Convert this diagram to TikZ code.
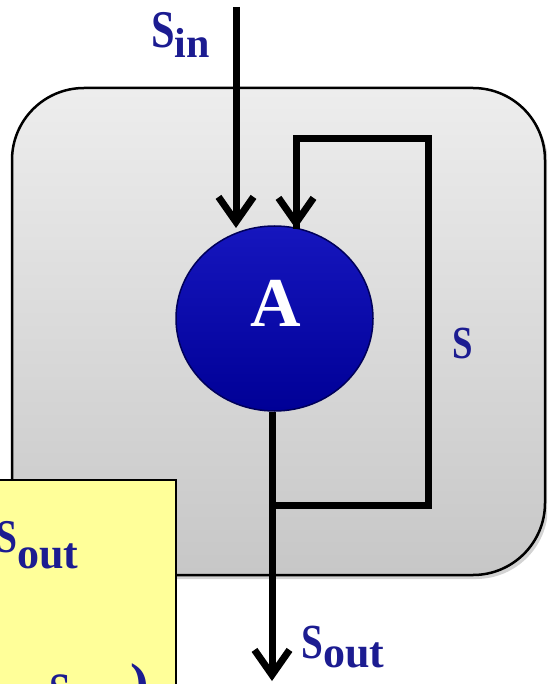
\documentclass[tikz,border=0pt]{standalone}
\usepackage{fontspec}
\setmainfont{Liberation Serif}
\usetikzlibrary{arrows.meta,shapes.geometric,shadows}
\definecolor{ink}{RGB}{28,28,145}
\definecolor{note}{RGB}{255,255,153}
\definecolor{coreTop}{RGB}{22,22,190}
\definecolor{coreBot}{RGB}{0,0,150}
% #1 letter size, #2 subscript size, #3 subscript drop, #4 subscript
\newcommand{\bigS}[1]{\scalebox{0.8}[1]{\fontsize{#1}{#1}\selectfont\bfseries S}}
\newcommand{\Ssub}[4]{\bigS{#1}\raisebox{-#3pt}{\fontsize{#2}{#2}\selectfont\bfseries #4}}
\tikzset{
  wire/.style={line width=7pt, line join=miter, line cap=butt},
  flow/.style={wire, -{Straight Barb[length=25pt,width=35pt]}},
  lbl/.style={text=ink, inner sep=0pt, anchor=base west},
}
\begin{document}
\begin{tikzpicture}[x=1pt,y=-1pt]
  \useasboundingbox (0,0) rectangle (547,684);
  \clip (0,0) rectangle (547,684);

  % enclosing system box
  \path[draw=black, line width=2.5pt, rounded corners=72pt,
        top color=black!7, bottom color=black!22,
        drop shadow={shadow xshift=3pt, shadow yshift=-4pt, opacity=0.35}]
    (12,88) rectangle (545,575);

  % process node
  \node[ellipse, minimum width=197pt, minimum height=185pt, inner sep=0pt,
        draw=coreBot!60!black, line width=1.5pt, top color=coreTop, bottom color=coreBot]
    (core) at (274.5,318.5) {};
  \node[text=white, inner sep=0pt, font=\fontsize{70}{70}\selectfont\bfseries]
    (A) at (276,303) {A};

  % connector points
  \coordinate (inTop) at (236,7);
  \coordinate (inEnd) at (236,228);
  \coordinate (outEnd) at (272,681);
  \coordinate (split) at (272,505);
  \coordinate (fbR) at (428,505);
  \coordinate (fbTR) at (428,139);
  \coordinate (fbTL) at (296,139);
  \coordinate (fbEnd) at (296,229);

  % input, output and feedback wires
  \draw[flow] (inTop) -- (inEnd);
  \draw[flow] (core.south -| split) -- (outEnd);
  \draw[wire] (split) -- (fbR) -- (fbTR) -- (fbTL) -- (fbEnd);
  \draw[flow] (fbTL) -- (fbEnd);

  % labels
  \node[lbl] (sin) at (151,48) {\Ssub{53}{42}{10}{in}};
  \node[lbl] (sout) at (301,658) {\Ssub{49}{44}{9}{out}};
  \node[lbl] (sfb) at (452,358) {\bigS{46}};

  % note box
  \draw[line width=2pt, fill=note] (-10,480) rectangle (176,700);
  \node[lbl] (nout) at (-4,552) {\Ssub{47}{44}{16}{out}};
  \node[lbl] (ns) at (49,706) {\bigS{48}};
  \node[lbl, font=\fontsize{56}{56}\selectfont\bfseries] (np) at (130,702) {)};
\end{tikzpicture}
\end{document}
